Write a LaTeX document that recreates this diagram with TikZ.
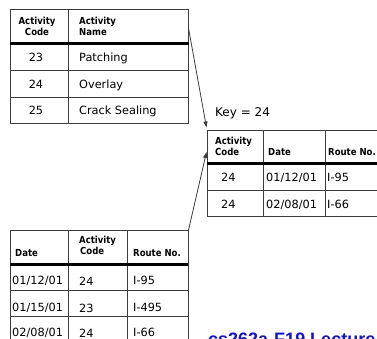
\documentclass[tikz,border=0pt]{standalone}
\usepackage{fontspec}
\setmainfont{DejaVu Sans}
\newfontfamily\hdrfont{DejaVu Sans}[FakeStretch=0.88]
\newfontfamily\lecfont{Liberation Sans}
\usetikzlibrary{arrows.meta}
\definecolor{lecblue}{RGB}{20,20,200}
\definecolor{gridcol}{RGB}{60,60,60}
\tikzset{
  tablebox/.style={draw=gridcol, line width=0.9pt, inner sep=0, outer sep=0, anchor=north west, fill=none},
  gridline/.style={draw=gridcol, line width=0.9pt},
  sepline/.style={draw=black, line width=3pt},
  cell/.style={inner sep=0, anchor=base west, font=\fontsize{11.3}{13}\selectfont},
  cellc/.style={inner sep=0, anchor=base, font=\fontsize{11.3}{13}\selectfont},
  hdr/.style={inner sep=0, anchor=base west, font=\hdrfont\bfseries\fontsize{9.7}{11}\selectfont},
  hdrc/.style={inner sep=0, anchor=base, font=\hdrfont\bfseries\fontsize{9.7}{11}\selectfont},
  link/.style={draw=gridcol, line width=0.8pt, -{Triangle[length=6pt,width=4pt]}},
}
\begin{document}
\begin{tikzpicture}[x=1pt,y=-1pt]
\useasboundingbox (0,0) rectangle (377,339);
\clip (0,0) rectangle (377,339);
% ---------- Table 1: activity codes ----------
\node[tablebox, minimum width=178.5pt, minimum height=114.3pt] (T1) at (10,9) {};
\draw[gridline] (68,9) -- (68,123.3);
\draw[gridline] (10,70.3) -- (188.5,70.3);
\draw[gridline] (10,97) -- (188.5,97);
\draw[sepline] (10,44) -- (188.5,44);
\node[hdrc] (t1h1a) at (37,25) {Activity};
\node[hdrc] (t1h1b) at (37,36) {Code};
\node[hdr] (t1h2a) at (79,25) {Activity};
\node[hdr] (t1h2b) at (79,36) {Name};
\node[cellc] (t1r1a) at (36,62) {23};
\node[cell] (t1r1b) at (79,62) {Patching};
\node[cellc] (t1r2a) at (36,88.6) {24};
\node[cell] (t1r2b) at (79,88.6) {Overlay};
\node[cellc] (t1r3a) at (36,115) {25};
\node[cell] (t1r3b) at (79,115) {Crack Sealing};
% ---------- Table 2: result for key ----------
\node[inner sep=0, anchor=base west, font=\fontsize{12}{14}\selectfont] (key) at (215,117) {Key = 24};
\node[tablebox, minimum width=190pt, minimum height=86.7pt] (T2) at (207,130) {};
\draw[gridline] (263,130) -- (263,216.7);
\draw[gridline] (325,130) -- (325,216.7);
\draw[gridline] (207,190.7) -- (400,190.7);
\draw[sepline] (207,164) -- (400,164);
\node[hdr] (t2h1a) at (215,145) {Activity};
\node[hdr] (t2h1b) at (215,156) {Code};
\node[hdr] (t2h2) at (268,156) {Date};
\node[hdr] (t2h3) at (328,156) {Route No.};
\node[cell] (t2r1a) at (221,182) {24};
\node[cell] (t2r1b) at (266,182) {01/12/01};
\node[cell] (t2r1c) at (327,182) {I-95};
\node[cell] (t2r2a) at (221,208.5) {24};
\node[cell] (t2r2b) at (266,208.5) {02/08/01};
\node[cell] (t2r2c) at (327,208.5) {I-66};
% ---------- Table 3: dated records ----------
\node[tablebox, minimum width=178.3pt, minimum height=130pt] (T3) at (10,230) {};
\draw[gridline] (68,230) -- (68,360);
\draw[gridline] (127.3,230) -- (127.3,360);
\draw[gridline] (10,290) -- (188.3,290);
\draw[gridline] (10,316.7) -- (188.3,316.7);
\draw[sepline] (10,264) -- (188.3,264);
\node[hdr] (t3h1) at (15,256) {Date};
\node[hdr] (t3h2a) at (79,243) {Activity};
\node[hdr] (t3h2b) at (80,254) {Code};
\node[hdr] (t3h3) at (133,256) {Route No.};
\node[cell] (t3r1a) at (12,284) {01/12/01};
\node[cell] (t3r1b) at (79,285.5) {24};
\node[cell] (t3r1c) at (133,284.5) {I-95};
\node[cell] (t3r2a) at (12,311) {01/15/01};
\node[cell] (t3r2b) at (79,312.5) {23};
\node[cell] (t3r2c) at (133,311.5) {I-495};
\node[cell] (t3r3a) at (12,336) {02/08/01};
\node[cell] (t3r3b) at (79,337.5) {24};
\node[cell] (t3r3c) at (133,336.5) {I-66};
% ---------- connectors ----------
\coordinate (a1s) at ([yshift=-19pt]T1.north east);
\coordinate (a1e) at ([shift={(-0.5,-2.5)}]T2.north west);
\coordinate (a2s) at ([yshift=-1pt]T3.north east);
\coordinate (a2e) at ([shift={(-0.5,22)}]T2.north west);
\draw[link] (a1s) -- (a1e);
\draw[link] (a2s) -- (a2e);
% ---------- footer ----------
\node[inner sep=0, anchor=base west, text=lecblue, font=\lecfont\bfseries\fontsize{18}{20}\selectfont] (lec) at (208,345) {cs262a-F19 Lecture};
\end{tikzpicture}
\end{document}
